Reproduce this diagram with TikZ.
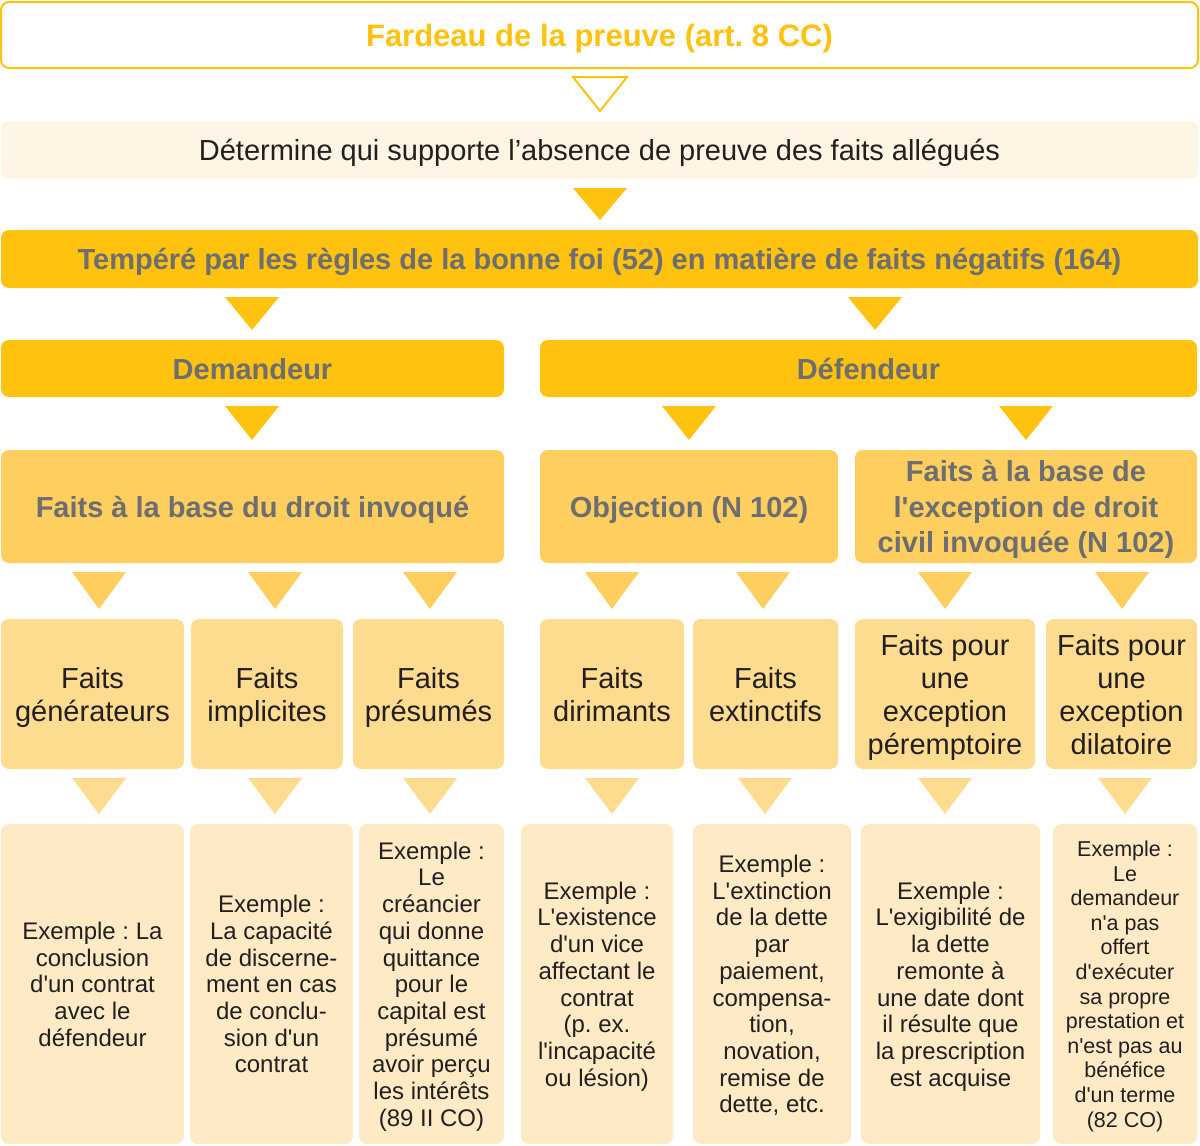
\documentclass[tikz,border=0pt]{standalone}
\usepackage{fontspec}
\setmainfont{Liberation Sans}[Ligatures=TeXOff]
\usetikzlibrary{calc}
\frenchspacing

\definecolor{amber}{HTML}{FFC20E}
\definecolor{amberlight}{HTML}{FECE5E}
\definecolor{amberpale}{HTML}{FEDC8F}
\definecolor{cream}{HTML}{FEEBC5}
\definecolor{creamlight}{HTML}{FEF5E4}
\definecolor{greytext}{HTML}{6D6E71}
\definecolor{darktext}{HTML}{231F20}

% downward triangle between two named boxes: style, x position, upper box, lower box
\newcommand\flowtri[4]{%
  \path[#1] ($(#2,0 |- #3.south)+(-27,9)$) -- ++(54,0)
    -- ($(#2,0 |- #4.north)+(0,-10)$) -- cycle;}

\begin{document}
\begin{tikzpicture}[x=1pt,y=-1pt,
  box/.style={rectangle, rounded corners=8pt, outer sep=0pt, inner sep=0pt, align=center,
    text depth=0pt},
  headbox/.style={box, draw=amber, line width=2pt, fill=white, text=amber,
    font=\bfseries\fontsize{31}{36}\selectfont},
  notebox/.style={box, fill=creamlight, text=darktext, font=\fontsize{29}{34}\selectfont},
  mainbox/.style={box, fill=amber, text=greytext, font=\bfseries\fontsize{29}{34}\selectfont},
  partybox/.style={box, fill=amber, text=greytext, font=\bfseries\fontsize{29}{34}\selectfont},
  groupbox/.style={box, fill=amberlight, text=greytext, font=\bfseries\fontsize{29}{35.5}\selectfont},
  factbox/.style={box, fill=amberpale, text=darktext, font=\fontsize{29}{33}\selectfont},
  examplebox/.style={box, fill=cream, text=darktext, font=\fontsize{24}{26.7}\selectfont},
  smallexample/.style={examplebox, font=\fontsize{21.5}{24.6}\selectfont},
  tri outline/.style={draw=amber, line width=2pt, fill=white, line join=miter},
  tri strong/.style={fill=amber},
  tri mid/.style={fill=amberlight},
  tri pale/.style={fill=amberpale}]

\useasboundingbox (0,0) rectangle (1200,1146);

% header rows
\node[headbox, minimum width=1197pt, minimum height=66pt] (title) at (599.5,35)
  {Fardeau de la preuve (art. 8 CC)};
\node[notebox, minimum width=1197pt, minimum height=58pt] (rule) at (599.5,150)
  {Détermine qui supporte l’absence de preuve des faits allégués};
\node[mainbox, minimum width=1197pt, minimum height=58pt] (temper) at (599.5,259)
  {Tempéré par les règles de la bonne foi (52) en matière de faits négatifs (164)};

% parties
\node[partybox, minimum width=503pt, minimum height=57pt] (dem) at (252.5,368.5) {Demandeur};
\node[partybox, minimum width=657pt, minimum height=57pt] (def) at (868.5,368.5) {Défendeur};

% groups of facts
\node[groupbox, minimum width=503pt, minimum height=113pt] (base) at (252.5,506.5)
  {Faits à la base du droit invoqué};
\node[groupbox, minimum width=298pt, minimum height=113pt] (obj) at (689,506.5)
  {Objection (N 102)};
\node[groupbox, minimum width=342pt, minimum height=113pt] (exc) at (1026,506.5)
  {Faits à la base de\\l'exception de droit\\civil invoquée (N 102)};

% kinds of facts
\node[factbox, minimum width=183pt, minimum height=150pt] (fa) at (92.5,694) {Faits\\générateurs};
\node[factbox, minimum width=152pt, minimum height=150pt] (fb) at (267,694) {Faits\\implicites};
\node[factbox, minimum width=151pt, minimum height=150pt] (fc) at (428.5,694) {Faits\\présumés};
\node[factbox, minimum width=144pt, minimum height=150pt] (fd) at (612,694) {Faits\\dirimants};
\node[factbox, minimum width=145pt, minimum height=150pt] (fe) at (765.5,694) {Faits\\extinctifs};
\node[factbox, minimum width=180pt, minimum height=150pt] (ff) at (945,694)
  {Faits pour\\une\\exception\\péremptoire};
\node[factbox, minimum width=151pt, minimum height=150pt] (fg) at (1121.5,694)
  {Faits pour\\une\\exception\\dilatoire};

% examples
\node[examplebox, minimum width=183pt, minimum height=320pt] (ea) at (92.5,984)
  {Exemple : La\\conclusion\\d'un contrat\\avec le\\défendeur};
\node[examplebox, minimum width=163pt, minimum height=320pt] (eb) at (271.5,984)
  {Exemple :\\La capacité\\de discerne-\\ment en cas\\de conclu-\\sion d'un\\contrat};
\node[examplebox, minimum width=145pt, minimum height=320pt] (ec) at (431.5,984)
  {Exemple :\\Le\\créancier\\qui donne\\quittance\\pour le\\capital est\\présumé\\avoir perçu\\les intérêts\\(89 II CO)};
\node[examplebox, minimum width=152pt, minimum height=320pt] (ed) at (597,984)
  {Exemple :\\L'existence\\d'un vice\\affectant le\\contrat\\(p. ex.\\l'incapacité\\ou lésion)};
\node[examplebox, minimum width=158pt, minimum height=320pt] (ee) at (772,984)
  {Exemple :\\L'extinction\\de la dette\\par\\paiement,\\compensa-\\tion,\\novation,\\remise de\\dette, etc.};
\node[examplebox, minimum width=179pt, minimum height=320pt] (ef) at (950.5,984)
  {Exemple :\\L'exigibilité de\\la dette\\remonte à\\une date dont\\il résulte que\\la prescription\\est acquise};
\node[smallexample, minimum width=144pt, minimum height=320pt] (eg) at (1125,984)
  {Exemple :\\Le\\demandeur\\n'a pas\\offert\\d'exécuter\\sa propre\\prestation et\\n'est pas au\\bénéfice\\d'un terme\\(82 CO)};

% connectors
\flowtri{tri outline}{600}{title}{rule}
\flowtri{tri strong}{600}{rule}{temper}
\flowtri{tri strong}{252}{temper}{dem}
\flowtri{tri strong}{875}{temper}{def}
\flowtri{tri strong}{252}{dem}{base}
\flowtri{tri strong}{689}{def}{obj}
\flowtri{tri strong}{1026}{def}{exc}

\flowtri{tri mid}{99}{base}{fa}
\flowtri{tri mid}{275}{base}{fb}
\flowtri{tri mid}{430}{base}{fc}
\flowtri{tri mid}{612}{obj}{fd}
\flowtri{tri mid}{763}{obj}{fe}
\flowtri{tri mid}{945}{exc}{ff}
\flowtri{tri mid}{1122}{exc}{fg}

\flowtri{tri pale}{99}{fa}{ea}
\flowtri{tri pale}{275}{fb}{eb}
\flowtri{tri pale}{430}{fc}{ec}
\flowtri{tri pale}{612}{fd}{ed}
\flowtri{tri pale}{765}{fe}{ee}
\flowtri{tri pale}{945}{ff}{ef}
\flowtri{tri pale}{1125}{fg}{eg}
\end{tikzpicture}
\end{document}
